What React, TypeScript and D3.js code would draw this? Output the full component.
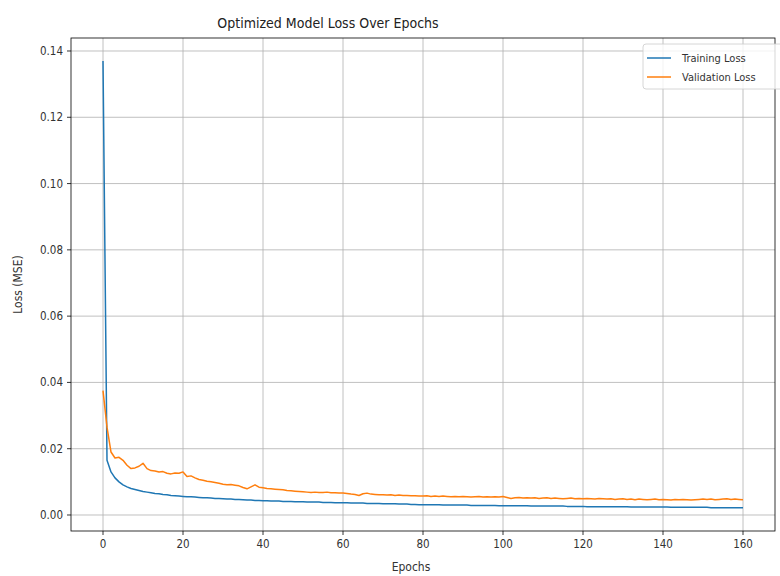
import React from "react";
import * as d3 from "d3";

const title = "Optimized Model Loss Over Epochs";
const xLabel = "Epochs";
const yLabel = "Loss (MSE)";
const seriesNames = ["Training Loss", "Validation Loss"];
const xTicks = [0, 20, 40, 60, 80, 100, 120, 140, 160];
const yTicks = [0.0, 0.02, 0.04, 0.06, 0.08, 0.1, 0.12, 0.14];

const trainingLoss = [
  0.137, 0.0165, 0.013, 0.0112, 0.01, 0.0091, 0.0085, 0.008, 0.0077, 0.0074,
  0.0071, 0.0069, 0.0067, 0.0065, 0.0064, 0.0062, 0.0061, 0.0059, 0.0058, 0.0057,
  0.0056, 0.0055, 0.0055, 0.0054, 0.0053, 0.0052, 0.0052, 0.0051, 0.005, 0.005,
  0.0049, 0.0048, 0.0048, 0.0047, 0.0047, 0.0046, 0.0045, 0.0045, 0.0044, 0.0044,
  0.0043, 0.0043, 0.0042, 0.0042, 0.0042, 0.0041, 0.0041, 0.0041, 0.004, 0.004,
  0.004, 0.0039, 0.0039, 0.0039, 0.0039, 0.0038, 0.0038, 0.0038, 0.0037, 0.0037,
  0.0037, 0.0037, 0.0036, 0.0036, 0.0036, 0.0036, 0.0035, 0.0035, 0.0035, 0.0035,
  0.0034, 0.0034, 0.0034, 0.0034, 0.0033, 0.0033, 0.0033, 0.0032, 0.0032, 0.0031,
  0.0031, 0.0031, 0.0031, 0.0031, 0.0031, 0.003, 0.003, 0.003, 0.003, 0.003,
  0.003, 0.003, 0.0029, 0.0029, 0.0029, 0.0029, 0.0029, 0.0029, 0.0029, 0.0028,
  0.0028, 0.0028, 0.0028, 0.0028, 0.0028, 0.0028, 0.0028, 0.0027, 0.0027, 0.0027,
  0.0027, 0.0027, 0.0027, 0.0027, 0.0027, 0.0027, 0.0026, 0.0026, 0.0026, 0.0026,
  0.0026, 0.0025, 0.0025, 0.0025, 0.0025, 0.0025, 0.0025, 0.0025, 0.0025, 0.0025,
  0.0025, 0.0025, 0.0024, 0.0024, 0.0024, 0.0024, 0.0024, 0.0024, 0.0024, 0.0024,
  0.0024, 0.0024, 0.0023, 0.0023, 0.0023, 0.0023, 0.0023, 0.0023, 0.0023, 0.0023,
  0.0023, 0.0023, 0.0022, 0.0022, 0.0022, 0.0022, 0.0022, 0.0022, 0.0022, 0.0022,
  0.0022,
];

const validationLoss = [
  0.0375, 0.0265, 0.019, 0.0172, 0.0174, 0.0165, 0.015, 0.014, 0.0142, 0.0147,
  0.0156, 0.014, 0.0134, 0.0133, 0.013, 0.0131, 0.0126, 0.0124, 0.0127, 0.0126,
  0.013, 0.0116, 0.0118, 0.0112, 0.0107, 0.0105, 0.0102, 0.01, 0.0098, 0.0096,
  0.0093, 0.0091, 0.0092, 0.009, 0.0088, 0.0083, 0.0079, 0.0085, 0.0091, 0.0084,
  0.0082, 0.008, 0.0079, 0.0078, 0.0077, 0.0076, 0.0074, 0.0073, 0.0072, 0.0071,
  0.007, 0.0069, 0.0068, 0.0069, 0.0068, 0.0068, 0.0069, 0.0067, 0.0067, 0.0066,
  0.0066, 0.0065, 0.0063, 0.0062, 0.0059, 0.0064, 0.0066, 0.0063, 0.0062, 0.0061,
  0.0061, 0.006, 0.0061, 0.0059, 0.006, 0.0059, 0.0059, 0.0058, 0.0058, 0.0057,
  0.0057, 0.0058, 0.0056, 0.0057, 0.0056, 0.0057, 0.0056, 0.0055, 0.0056, 0.0055,
  0.0056, 0.0055, 0.0054, 0.0055, 0.0056, 0.0054, 0.0055, 0.0054, 0.0055, 0.0054,
  0.0056, 0.0053, 0.005, 0.0052, 0.0053, 0.0051, 0.0052, 0.0051, 0.0052, 0.005,
  0.0051, 0.0052, 0.005, 0.0051, 0.005, 0.0049, 0.005, 0.0051, 0.0049, 0.005,
  0.0049, 0.005, 0.0049, 0.0048, 0.005, 0.0049, 0.0048, 0.0049, 0.0047, 0.0048,
  0.0049, 0.0047, 0.0048, 0.0046, 0.0048, 0.0047, 0.0046, 0.0047, 0.0048, 0.0046,
  0.0047, 0.0046, 0.0045, 0.0047, 0.0046, 0.0047, 0.0046, 0.0045, 0.0046, 0.0047,
  0.0048, 0.0047, 0.0048, 0.0046, 0.0047, 0.0048, 0.0049, 0.0047, 0.0048, 0.0047,
  0.0046,
];

const colors = ["#1f77b4", "#ff7f0e"];

const W = 780;
const H = 576;
const left = 71;
const right = 775;
const top = 38;
const bottom = 531;
const FONT = "'DejaVu Sans Condensed', 'DejaVu Sans', sans-serif";

export default function App() {
  const x = d3.scaleLinear().domain([-8, 168]).range([left, right]);
  const y = d3.scaleLinear().domain([-0.00483, 0.14392]).range([bottom, top]);
  const line = d3
    .line<number>()
    .x((_, i) => x(i))
    .y((d) => y(d));
  const series = [trainingLoss, validationLoss];

  const legX = 643;
  const legY = 44;

  return (
    <svg
      width={W}
      height={H}
      style={{ position: "absolute", left: 0, top: 0, background: "#fff" }}
      fontFamily={FONT}
    >
      <rect x={0} y={0} width={W} height={H} fill="#fff" />
      {/* grid */}
      {xTicks.map((t) => (
        <line key={"gx" + t} x1={x(t)} x2={x(t)} y1={top} y2={bottom} stroke="#b0b0b0" strokeWidth={0.8} />
      ))}
      {yTicks.map((t) => (
        <line key={"gy" + t} x1={left} x2={right} y1={y(t)} y2={y(t)} stroke="#b0b0b0" strokeWidth={0.8} />
      ))}
      {/* lines */}
      <g clipPath="url(#clip)">
        {series.map((s, i) => (
          <path key={i} d={line(s) || ""} fill="none" stroke={colors[i]} strokeWidth={1.5} strokeLinejoin="round" />
        ))}
      </g>
      <defs>
        <clipPath id="clip">
          <rect x={left} y={top} width={right - left} height={bottom - top} />
        </clipPath>
      </defs>
      {/* spines */}
      <rect x={left} y={top} width={right - left} height={bottom - top} fill="none" stroke="#000" strokeWidth={0.8} />
      {/* x ticks */}
      {xTicks.map((t) => (
        <g key={"xt" + t}>
          <line x1={x(t)} x2={x(t)} y1={bottom} y2={bottom + 4} stroke="#000" strokeWidth={0.8} />
          <text x={x(t)} y={bottom + 17} textAnchor="middle" fontSize={11.5} fill="#333">
            {t}
          </text>
        </g>
      ))}
      {/* y ticks */}
      {yTicks.map((t) => (
        <g key={"yt" + t}>
          <line x1={left - 4} x2={left} y1={y(t)} y2={y(t)} stroke="#000" strokeWidth={0.8} />
          <text x={left - 8} y={y(t) + 4} textAnchor="end" fontSize={11.5} fill="#333">
            {t.toFixed(2)}
          </text>
        </g>
      ))}
      {/* labels */}
      <text x={(left + right) / 2 - 12} y={571} textAnchor="middle" fontSize={12} fill="#333">
        {xLabel}
      </text>
      <text
        transform={`translate(22, ${(top + bottom) / 2}) rotate(-90)`}
        textAnchor="middle"
        fontSize={12}
        fill="#333"
      >
        {yLabel}
      </text>
      <text x={(left + right) / 2 - 95} y={28} textAnchor="middle" fontSize={14} fill="#222">
        {title}
      </text>
      {/* legend */}
      <rect x={legX} y={legY} width={W - legX + 4} height={45} rx={3} fill="#fff" fillOpacity={0.8} stroke="#ccc" strokeWidth={0.8} />
      {seriesNames.map((n, i) => (
        <g key={n}>
          <line x1={legX + 4} x2={legX + 28} y1={legY + 14 + i * 19} y2={legY + 14 + i * 19} stroke={colors[i]} strokeWidth={1.5} />
          <text x={legX + 39} y={legY + 18 + i * 19} fontSize={11} fill="#333">
            {n}
          </text>
        </g>
      ))}
    </svg>
  );
}
